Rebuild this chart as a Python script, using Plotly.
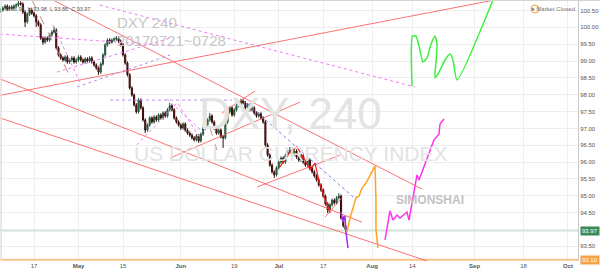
import plotly.graph_objects as go

# ---------------- DATA ----------------
# 12-hour bars, x = trading-day index (0 = 17 Apr 2017)
bar_count = 156
bar_day = [-7.5 + 0.5 * i for i in range(bar_count)]

opens = [100.48,100.51,100.57,100.63,100.54,100.60,100.57,100.63,100.66,100.72,
         100.69,100.45,100.16,100.39,100.51,100.42,100.34,100.16,100.07,99.68,
         99.56,99.68,99.62,99.77,99.86,99.92,99.39,99.18,99.09,99.03,
         99.12,98.97,99.03,99.09,98.97,99.03,99.12,99.03,98.97,99.06,
         99.00,99.09,98.97,98.88,98.79,98.67,98.91,99.18,99.48,99.62,
         99.56,99.62,99.65,99.68,99.59,99.48,99.18,98.94,98.59,98.20,
         97.99,97.70,97.49,97.84,97.61,97.25,96.95,97.10,97.31,97.19,
         97.34,97.25,97.40,97.31,97.46,97.37,97.55,97.67,97.55,97.31,
         97.19,97.10,97.01,97.13,96.95,96.86,96.80,96.72,96.66,96.78,
         96.63,96.83,97.01,97.10,97.25,97.37,97.19,97.01,96.86,96.95,
         96.75,96.72,97.19,97.49,97.61,97.40,97.55,97.67,97.73,97.82,
         97.76,97.61,97.70,97.55,97.61,97.46,97.37,97.43,97.31,97.19,
         96.51,96.21,95.91,95.71,95.62,95.83,96.00,96.12,96.00,96.21,
         96.30,96.36,96.24,96.33,96.15,96.06,96.18,96.00,95.91,96.06,
         95.83,95.71,95.59,95.47,95.32,95.17,94.99,94.76,94.58,94.73,
         94.87,94.79,94.94,94.99,94.34,94.11]
closes = [100.51,100.57,100.63,100.54,100.60,100.57,100.63,100.66,100.72,100.69,
          100.45,100.16,100.39,100.51,100.42,100.34,100.16,100.07,99.68,99.56,
          99.68,99.62,99.77,99.86,99.92,99.39,99.18,99.09,99.03,99.12,
          98.97,99.03,99.09,98.97,99.03,99.12,99.03,98.97,99.06,99.00,
          99.09,98.97,98.88,98.79,98.67,98.91,99.18,99.48,99.62,99.56,
          99.62,99.65,99.68,99.59,99.48,99.18,98.94,98.59,98.20,97.99,
          97.70,97.49,97.84,97.61,97.25,96.95,97.10,97.31,97.19,97.34,
          97.25,97.40,97.31,97.46,97.37,97.55,97.67,97.55,97.31,97.19,
          97.10,97.01,97.13,96.95,96.86,96.80,96.72,96.66,96.78,96.63,
          96.83,97.01,97.10,97.25,97.37,97.19,97.01,96.86,96.95,96.75,
          96.72,97.19,97.49,97.61,97.40,97.55,97.67,97.73,97.82,97.76,
          97.61,97.70,97.55,97.61,97.46,97.37,97.43,97.31,97.19,96.51,
          96.21,95.91,95.71,95.62,95.83,96.00,96.12,96.00,96.21,96.30,
          96.36,96.24,96.33,96.15,96.06,96.18,96.00,95.91,96.06,95.83,
          95.71,95.59,95.47,95.32,95.17,94.99,94.76,94.58,94.73,94.87,
          94.79,94.94,94.99,94.34,94.11,93.97]
highs = [100.56,100.62,100.68,100.68,100.65,100.65,100.68,100.71,100.78,100.77,
         100.74,100.50,100.44,100.56,100.56,100.47,100.39,100.21,100.12,99.73,
         99.73,99.73,99.82,99.91,100.01,99.97,99.44,99.23,99.14,99.17,
         99.17,99.08,99.14,99.14,99.08,99.17,99.17,99.08,99.11,99.11,
         99.14,99.14,99.02,98.93,98.84,98.96,99.23,99.53,99.67,99.67,
         99.67,99.70,99.74,99.73,99.64,99.53,99.23,98.99,98.64,98.25,
         98.04,97.75,97.90,97.89,97.66,97.30,97.15,97.36,97.36,97.39,
         97.39,97.45,97.45,97.51,97.51,97.60,97.76,97.72,97.60,97.36,
         97.24,97.15,97.18,97.18,97.00,96.91,96.85,96.77,96.83,96.83,
         96.88,97.06,97.15,97.30,97.46,97.42,97.24,97.06,97.00,97.00,
         96.80,97.24,97.54,97.66,97.66,97.60,97.72,97.78,97.88,97.87,
         97.81,97.75,97.75,97.66,97.66,97.51,97.48,97.48,97.36,97.24,
         96.56,96.26,95.96,95.76,95.88,96.05,96.17,96.17,96.26,96.35,
         96.45,96.41,96.38,96.38,96.20,96.23,96.23,96.05,96.11,96.11,
         95.88,95.76,95.64,95.52,95.37,95.22,95.04,94.81,94.78,94.92,
         94.92,94.99,95.08,95.04,94.39,94.16]
lows = [100.43,100.46,100.52,100.49,100.49,100.52,100.52,100.58,100.61,100.64,
        100.40,100.01,100.11,100.34,100.37,100.29,100.01,100.02,99.63,99.48,
        99.51,99.57,99.57,99.72,99.81,99.34,99.13,99.04,98.98,98.98,
        98.92,98.92,98.98,98.92,98.92,98.98,98.98,98.92,98.92,98.95,
        98.95,98.92,98.83,98.74,98.59,98.62,98.86,99.13,99.43,99.51,
        99.51,99.57,99.60,99.54,99.43,99.13,98.89,98.54,98.15,97.94,
        97.65,97.44,97.44,97.56,97.20,96.86,96.90,97.05,97.14,97.14,
        97.20,97.20,97.26,97.26,97.32,97.32,97.50,97.50,97.26,97.14,
        97.05,96.96,96.96,96.90,96.81,96.75,96.67,96.61,96.61,96.57,
        96.58,96.78,96.96,97.05,97.20,97.14,96.96,96.81,96.81,96.70,
        96.42,96.67,97.14,97.44,97.35,97.35,97.50,97.62,97.68,97.71,
        97.56,97.56,97.50,97.50,97.41,97.32,97.32,97.26,97.14,96.46,
        96.16,95.86,95.66,95.53,95.57,95.78,95.95,95.95,95.95,96.16,
        96.25,96.19,96.19,96.10,96.01,96.01,95.95,95.86,95.86,95.78,
        95.66,95.54,95.42,95.27,95.12,94.94,94.71,94.49,94.53,94.68,
        94.74,94.74,94.89,94.29,94.06,93.92]

tick_days = [0, 10, 20, 33, 45, 55, 65, 76, 85, 99, 110, 120]
tick_text = ["17", "<b>May</b>", "15", "<b>Jun</b>", "19", "<b>Jul</b>", "17",
             "<b>Aug</b>", "14", "<b>Sep</b>", "18", "<b>Oct</b>"]
price_ticks = [93.5, 94.5, 95.0, 95.5, 96.0, 96.5, 97.0, 97.5, 98.0,
               98.5, 99.0, 99.5, 100.0, 100.5]
last_price = 93.97
bottom_line_price = 93.10

# trend lines (day0, price0, day1, price1)
red_lines = [
    (-7.64, 97.98, 107.0, 100.90),
    (2.47, 100.93, 87.2, 95.20),
    (-7.64, 98.47, 73.7, 94.22),
    (-7.64, 97.31, 91.2, 92.94),
    (30.56, 96.12, 59.8, 97.78),
    (42.25, 97.46, 49.66, 98.11),
    (50.1, 95.26, 68.8, 96.21),
    (65.4, 94.37, 69.2, 94.94),
]
pink_dotted = [
    (14.8, 100.66, 85.6, 98.23),
    (-7.64, 99.80, 31.0, 99.45),
    (5.17, 98.67, 30.6, 99.68),
    (4.27, 100.07, 10.3, 98.38),
    (23.1, 96.51, 32.1, 97.75),
    (29.9, 97.87, 38.0, 96.89),
    (32.4, 97.72, 37.3, 96.72),
]
violet_dotted = [
    (9.66, 98.23, 30.6, 99.18),
    (17.1, 97.84, 44.5, 97.84),
]
blue_dotted = [(47.0, 97.84, 71.7, 94.97)]
brown_dashed = [
    (-0.45, 100.81, 8.5, 98.44),
    (39.5, 97.04, 41.1, 96.36),
]

red_path_day = [55.28, 57.53, 59.10, 60.90, 62.02, 63.15, 64.27, 65.39, 66.52]
red_path_px = [95.86, 96.30, 96.45, 96.06, 95.77, 95.97, 95.32, 94.88, 94.49]
purple_day = [68.99, 69.44, 69.89, 70.11, 70.56]
purple_px = [94.52, 94.22, 94.40, 93.93, 93.45]
orange_day = [70.34, 71.01, 71.69, 72.36, 73.03, 73.71, 74.61, 75.51, 76.63, 76.85, 76.85, 77.30]
orange_px = [93.93, 94.34, 94.64, 94.94, 94.99, 95.23, 95.38, 95.59, 95.89, 94.88, 93.99, 93.45]
magenta_day = [78.88, 80.0, 80.67, 81.57, 82.25, 83.15, 83.82, 84.27, 85.17, 86.07,
               86.52, 87.87, 88.99, 89.89, 91.01, 91.24, 92.13]
magenta_px = [93.69, 94.55, 94.28, 94.43, 94.34, 94.46, 94.52, 94.28, 94.97, 95.62,
              95.47, 95.97, 96.36, 96.66, 96.83, 97.13, 97.28]
green_day = [84.94, 85.06, 85.84, 86.52, 87.42, 88.31, 89.21, 90.11, 90.56, 90.34,
             90.11, 91.01, 92.36, 93.48, 94.16, 95.06, 103.15]
green_px = [98.26, 99.74, 99.74, 99.45, 98.97, 99.09, 99.50, 99.74, 99.50, 98.97,
            98.50, 98.67, 99.03, 99.21, 99.03, 98.44, 100.81]

# ---------------- FIGURE ----------------
fig = go.Figure()

# horizontal price lines
fig.add_trace(go.Scatter(x=[-7.64, 122.25], y=[last_price, last_price], mode="lines",
                         line=dict(color="#cfe3d6", width=2), hoverinfo="skip"))
fig.add_trace(go.Scatter(x=[-7.64, 122.25], y=[bottom_line_price, bottom_line_price], mode="lines",
                         line=dict(color="#f6c48e", width=2), hoverinfo="skip"))

def add_segments(segs, color, dash, width=1):
    for d0, p0, d1, p1 in segs:
        fig.add_trace(go.Scatter(x=[d0, d1], y=[p0, p1], mode="lines",
                                 line=dict(color=color, width=width, dash=dash),
                                 hoverinfo="skip"))

add_segments(red_lines, "rgba(250,90,90,0.85)", "solid")
add_segments(pink_dotted, "#f07af0", "dot")
add_segments(violet_dotted, "#b98cf5", "dot")
add_segments(blue_dotted, "#7b7bf2", "dot")
add_segments(brown_dashed, "#c98a8a", "dash")

fig.add_trace(go.Candlestick(
    x=bar_day, open=opens, high=highs, low=lows, close=closes,
    increasing=dict(line=dict(color="#24533a", width=1), fillcolor="#2f8f55"),
    decreasing=dict(line=dict(color="#3a0c0c", width=1), fillcolor="#8a1818"),
    whiskerwidth=0, hoverinfo="skip"))

fig.add_trace(go.Scatter(x=red_path_day, y=red_path_px, mode="lines",
                         line=dict(color="#ff1a1a", width=1.2), hoverinfo="skip"))
fig.add_trace(go.Scatter(x=purple_day, y=purple_px, mode="lines",
                         line=dict(color="#a52cf5", width=1.5), hoverinfo="skip"))
fig.add_trace(go.Scatter(x=orange_day, y=orange_px, mode="lines",
                         line=dict(color="#ffa21f", width=1.5), hoverinfo="skip"))
fig.add_trace(go.Scatter(x=magenta_day, y=magenta_px, mode="lines",
                         line=dict(color="#ff33ee", width=1.5), hoverinfo="skip"))
fig.add_trace(go.Scatter(x=green_day, y=green_px, mode="lines",
                         line=dict(color="#3cf03c", width=1.5, shape="spline", smoothing=0.6),
                         hoverinfo="skip"))

FONT = "Liberation Sans, Arial, sans-serif"
annotations = [
    dict(text="DXY, 240", xref="paper", yref="paper", x=0.502, y=0.567,
         showarrow=False, font=dict(family=FONT, size=44, color="#e3e3e3")),
    dict(text="US DOLLAR CURRENCY INDEX", xref="paper", yref="paper", x=0.503, y=0.41,
         showarrow=False, font=dict(family=FONT, size=21, color="#e3e3e3")),
    dict(text="DXY 240", xref="x", yref="y", x=18.2, y=100.13, xanchor="left",
         showarrow=False, font=dict(family=FONT, size=15, color="#c6c6c6")),
    dict(text="20170721~0728", xref="x", yref="y", x=18.2, y=99.62, xanchor="left",
         showarrow=False, font=dict(family=FONT, size=15, color="#c6c6c6")),
    dict(text="<b>SIMONSHAI</b>", xref="paper", yref="paper", x=0.806, y=0.199,
         showarrow=False, font=dict(family=FONT, size=12, color="#c2c2c2")),
    dict(text="O 93.98  H 93.98  L 93.86  C 93.97", xref="paper", yref="paper",
         x=0.006, y=1 - 9 / 261, xanchor="left", yanchor="middle", showarrow=False,
         font=dict(family=FONT, size=5.5, color="#555555")),
    dict(text="● Market Closed", xref="paper", yref="paper", x=0.998, y=1 - 9 / 261,
         xanchor="right", yanchor="middle", showarrow=False,
         font=dict(family=FONT, size=6, color="#777777")),
    dict(text=f"{last_price:.2f}", xref="paper", yref="y", x=1.0, y=last_price,
         xanchor="left", yanchor="middle", showarrow=False, bgcolor="#3b8a5a",
         borderpad=1, xshift=2, font=dict(family=FONT, size=6, color="white")),
    dict(text=f"{bottom_line_price:.2f}", xref="paper", yref="y", x=1.0, y=bottom_line_price,
         xanchor="left", yanchor="middle", showarrow=False, bgcolor="#f5a24a",
         borderpad=1, xshift=2, font=dict(family=FONT, size=6, color="white")),
]

shapes = [
    dict(type="circle", xref="paper", yref="paper", x0=531 / 578, x1=539 / 578,
         y0=1 - 13 / 261, y1=1 - 5 / 261, line=dict(color="#f59a3a", width=1)),
    dict(type="line", xref="paper", yref="paper", x0=0, x1=1.04, y0=1, y1=1,
         line=dict(color="#d4d4d4", width=2)),
    dict(type="line", xref="paper", yref="paper", x0=0.002, x1=0.002, y0=0, y1=1,
         line=dict(color="#e0e0e0", width=1.5)),
]

fig.update_layout(
    width=600, height=269,
    margin=dict(l=0, r=22, t=0, b=8),
    paper_bgcolor="white", plot_bgcolor="white",
    showlegend=False,
    annotations=annotations, shapes=shapes,
    font=dict(family=FONT, size=6, color="#555555"),
    xaxis=dict(range=[-7.64, 122.25], tickmode="array", tickvals=tick_days, ticktext=tick_text,
               showgrid=True, gridcolor="#eeeeee", gridwidth=1, zeroline=False,
               showline=False, ticks="", tickfont=dict(size=6, color="#555555"),
               rangeslider=dict(visible=False), fixedrange=True),
    yaxis=dict(range=[93.066, 100.81], side="right", tickmode="array", tickvals=price_ticks,
               ticktext=[f"{v:.2f}" for v in price_ticks],
               showgrid=True, gridcolor="#eeeeee", gridwidth=1, zeroline=False,
               showline=True, linecolor="#c8c8c8", linewidth=1, ticks="",
               tickfont=dict(size=6, color="#555555"), fixedrange=True),
)

fig.write_html("out.html")
